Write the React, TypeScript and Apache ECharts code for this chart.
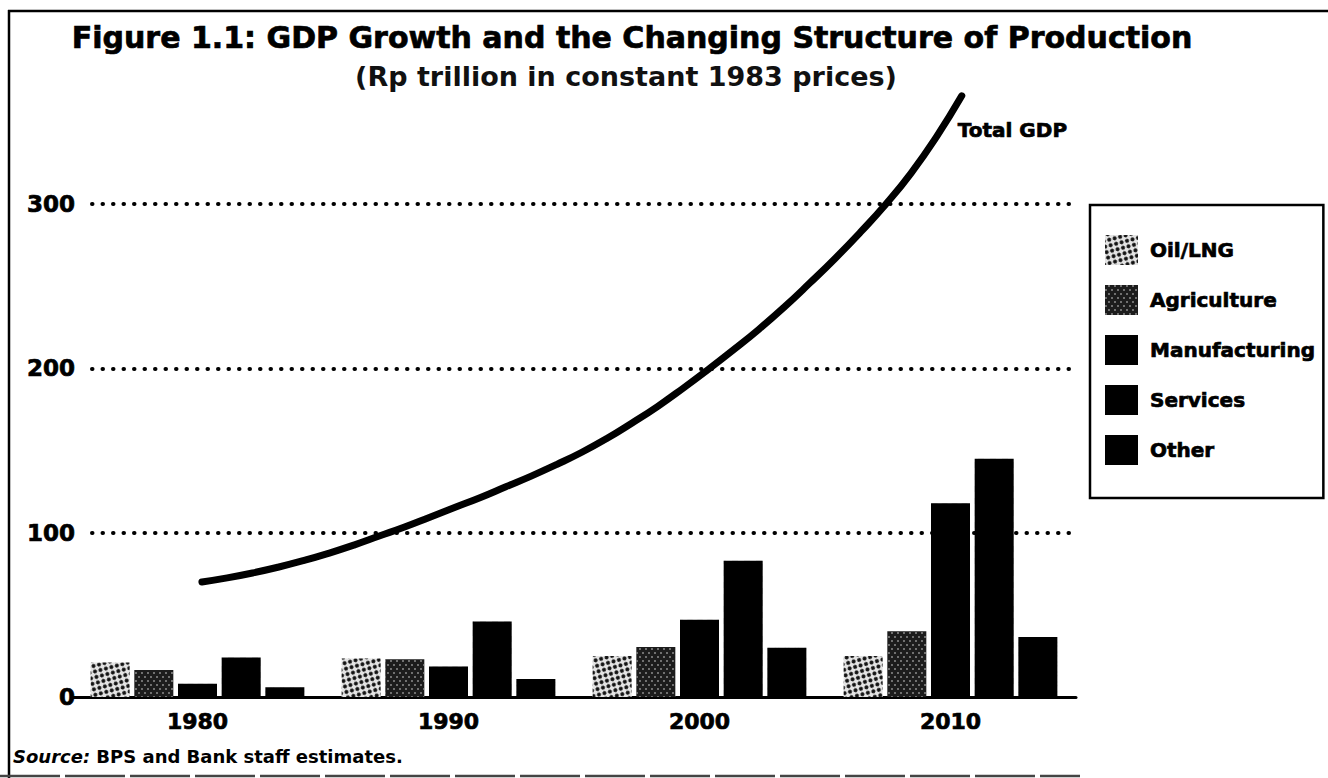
import React, { useEffect, useRef } from "react";
import * as echarts from "echarts";

// Output by sector, Rp trillion (constant 1983 prices)
const decades = ["1980", "1990", "2000", "2010"];
const oilLng = [21, 23.5, 25, 25];
const agriculture = [16.5, 23, 30.5, 40];
const manufacturing = [8, 18.5, 47, 118];
const services = [24, 46, 83, 145];
const other = [6, 11, 30, 36.5];

// Total GDP path, one value per year
const gdpYears = [
  1980, 1981, 1982, 1983, 1984, 1985, 1986, 1987, 1988, 1989, 1990, 1991, 1992, 1993, 1994, 1995,
  1996, 1997, 1998, 1999, 2000, 2001, 2002, 2003, 2004, 2005, 2006, 2007, 2008, 2009, 2010,
];
const totalGdp = [
  70, 72.5, 75.5, 79, 83, 87.5, 92.5, 98, 103.5, 109.5, 115.5, 121.5, 128, 134.5, 141.5, 149,
  157.5, 167, 177, 188, 199.5, 211.5, 224, 237.5, 252, 267, 283, 300, 319, 341, 366,
];

const yTicks = [0, 100, 200, 300];
const sectorNames = ["Oil/LNG", "Agriculture", "Manufacturing", "Services", "Other"];

const FONT = '"DejaVu Sans", "Liberation Sans", Arial, sans-serif';
// thin outline that gives the type a heavier, printed look
const heavy = { textBorderColor: "#000", textBorderWidth: 0.7 };

export default function App() {
  const ref = useRef<HTMLDivElement>(null);

  useEffect(() => {
    document.body.style.margin = "0";
    if (!ref.current) return;
    const chart = echarts.init(ref.current, null, { renderer: "svg" });

    const barBase = {
      type: "bar",
      xAxisIndex: 1,
      yAxisIndex: 1,
      barWidth: 39,
      barGap: "12%",
    };

    const option = {
      animation: false,
      backgroundColor: "#ffffff",
      aria: { enabled: true, decal: { show: true } },
      textStyle: { fontFamily: FONT },
      title: [
        {
          text: "Figure 1.1: GDP Growth and the Changing Structure of Production",
          left: 632,
          top: 22,
          textAlign: "center",
          padding: 0,
          textStyle: { fontSize: 30, fontWeight: "bold", color: "#000", fontFamily: FONT, ...heavy },
        },
        {
          text: "(Rp trillion in constant 1983 prices)",
          left: 626,
          top: 63,
          textAlign: "center",
          padding: 0,
          textStyle: { fontSize: 27, fontWeight: "bold", color: "#111", fontFamily: FONT },
        },
      ],
      legend: {
        data: sectorNames,
        orient: "vertical",
        left: 1090,
        top: 205,
        itemWidth: 33,
        itemHeight: 30,
        itemGap: 20,
        padding: [30, 8, 33, 15],
        borderColor: "#000",
        borderWidth: 2.5,
        icon: "rect",
        selectedMode: false,
        textStyle: {
          fontSize: 20,
          fontWeight: "bold",
          color: "#000",
          fontFamily: FONT,
          padding: [0, 0, 0, 7],
          ...heavy,
        },
      },
      grid: [
        // dotted gridlines and value labels
        { left: 92, right: 258, top: 204, bottom: 81 },
        // bars, GDP line and the category axis
        { left: 72, right: 252, top: 40, bottom: 81 },
      ],
      xAxis: [
        { gridIndex: 0, type: "value", min: 0, max: 1, show: false },
        {
          gridIndex: 1,
          type: "category",
          data: decades,
          axisLine: { show: true, lineStyle: { color: "#000", width: 3 } },
          axisTick: { show: false },
          axisLabel: {
            fontSize: 22,
            fontWeight: "bold",
            color: "#000",
            margin: 13,
            fontFamily: FONT,
            ...heavy,
          },
        },
        { gridIndex: 1, type: "value", min: 1974.87, max: 2014.51, show: false },
      ],
      yAxis: [
        {
          gridIndex: 0,
          type: "value",
          min: yTicks[0],
          max: yTicks[yTicks.length - 1],
          interval: 100,
          axisLine: { show: false },
          axisTick: { show: false },
          axisLabel: {
            fontSize: 23,
            fontWeight: "bold",
            color: "#000",
            margin: 17,
            fontFamily: FONT,
            ...heavy,
          },
          splitLine: {
            show: true,
            showMinLine: false,
            lineStyle: { color: "#000", width: 4, type: [0.5, 10], cap: "round" },
          },
        },
        { gridIndex: 1, type: "value", min: 0, max: 400, show: false },
      ],
      series: [
        {
          ...barBase,
          name: "Oil/LNG",
          data: oilLng,
          itemStyle: {
            color: "#e4e4e4",
            decal: {
              symbol: "circle",
              symbolSize: 1,
              color: "#111111",
              dashArrayX: [
                [4, 4],
                [0, 4, 4, 0],
              ],
              dashArrayY: [4, 0],
            },
          },
        },
        {
          ...barBase,
          name: "Agriculture",
          data: agriculture,
          itemStyle: {
            color: "#1c1c1c",
            decal: {
              symbol: "rect",
              symbolSize: 0.8,
              color: "#a8a8a8",
              dashArrayX: [
                [2, 4],
                [0, 3, 2, 1],
              ],
              dashArrayY: [2, 2],
            },
          },
        },
        { ...barBase, name: "Manufacturing", data: manufacturing, itemStyle: { color: "#000", decal: "none" } },
        { ...barBase, name: "Services", data: services, itemStyle: { color: "#000", decal: "none" } },
        { ...barBase, name: "Other", data: other, itemStyle: { color: "#000", decal: "none" } },
        {
          type: "line",
          name: "Total GDP",
          xAxisIndex: 2,
          yAxisIndex: 1,
          data: gdpYears.map((y, i) => [y, totalGdp[i]]),
          showSymbol: false,
          smooth: 0.5,
          lineStyle: { color: "#000", width: 7, cap: "round" },
          itemStyle: { color: "#000" },
          endLabel: {
            show: true,
            formatter: "Total GDP",
            offset: [-12, 34],
            fontSize: 20,
            fontWeight: "bold",
            color: "#000",
            fontFamily: FONT,
            ...heavy,
          },
          z: 3,
        },
      ],
      graphic: [
        { type: "line", shape: { x1: 8, y1: 11, x2: 1328, y2: 11 }, style: { stroke: "#000", lineWidth: 2.5 } },
        { type: "line", shape: { x1: 9, y1: 10, x2: 9, y2: 778 }, style: { stroke: "#000", lineWidth: 2.5 } },
        {
          type: "line",
          shape: { x1: 0, y1: 776, x2: 1080, y2: 776 },
          style: { stroke: "#444", lineWidth: 2.5, lineDash: [60, 5] },
        },
        {
          type: "text",
          left: 13,
          top: 747,
          style: {
            text: "{i|Source:} BPS and Bank staff estimates.",
            font: `bold 18px ${FONT}`,
            fill: "#000",
            rich: {
              i: { fontStyle: "italic", fontWeight: "bold", fontSize: 18, fontFamily: FONT, fill: "#000" },
            },
          },
        },
      ],
    };

    chart.setOption(option as any);
    return () => chart.dispose();
  }, []);

  return <div ref={ref} style={{ width: 1328, height: 778 }} />;
}
